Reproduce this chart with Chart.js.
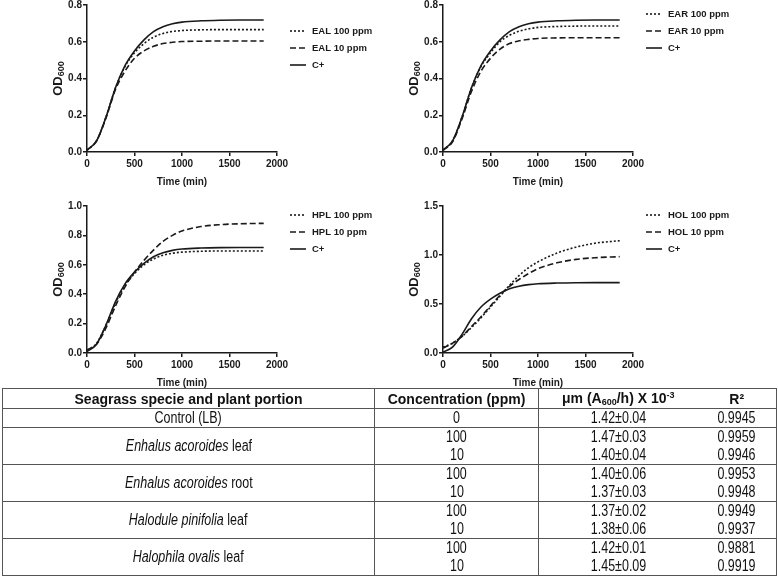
<!DOCTYPE html>
<html>
<head>
<meta charset="utf-8">
<script src="https://cdn.jsdelivr.net/npm/chart.js@4.4.1/dist/chart.umd.min.js"></script>
<style>
  body { margin: 0; background: #fff; width: 778px; height: 579px; position: relative; overflow: hidden; font-family: "Liberation Sans", Arial, sans-serif; }
  .panel { position: absolute; }
  table { position: absolute; left: 2px; top: 388px; width: 774px; border-collapse: collapse; border: 1.5px solid #555; table-layout: fixed; color: #111; }
  td, th { padding: 0; text-align: center; vertical-align: middle; white-space: nowrap; }
  th { font: bold 14px "Liberation Sans", Arial, sans-serif; height: 19px; border-bottom: 1.5px solid #555; }
  td { font: 16px "Liberation Sans", Arial, sans-serif; height: 18px; line-height: 18px; }
  td span { display: inline-block; transform: scaleX(0.78); }
  .c1 { border-right: 1.5px solid #555; }
  .c2 { border-right: 1.5px solid #555; }
  tr.grp td { border-top: 1.5px solid #555; }
  sub { font-size: 9px; vertical-align: -2px; }
  sup { font-size: 9px; vertical-align: 5px; }
</style>
</head>
<body>
<div class="panel" style="left:0;top:-10px"><canvas id="c1" width="390" height="200"></canvas></div>
<div class="panel" style="left:390px;top:-10px"><canvas id="c2" width="388" height="200"></canvas></div>
<div class="panel" style="left:0;top:191px"><canvas id="c3" width="390" height="200"></canvas></div>
<div class="panel" style="left:390px;top:191px"><canvas id="c4" width="388" height="200"></canvas></div>
<table id="tbl">
  <colgroup><col style="width:372px"><col style="width:164px"><col style="width:159px"><col style="width:79px"></colgroup>
  <thead>
    <tr>
      <th class="c1">Seagrass specie and plant portion</th>
      <th class="c2">Concentration (ppm)</th>
      <th>μm (A<sub>600</sub>/h) X 10<sup>-3</sup></th>
      <th>R²</th>
    </tr>
  </thead>
  <tbody id="tbody"></tbody>
</table>
<script>
// growth curves (OD600 vs time in min)
const timeMin = [0, 100, 200, 300, 400, 500, 600, 700, 800, 900, 1000, 1200, 1400, 1600, 1860];
const ctrlOD  = [0.01, 0.06, 0.19, 0.35, 0.47, 0.55, 0.61, 0.655, 0.682, 0.698, 0.707, 0.714, 0.717, 0.718, 0.718];

const eal100 = [0.01, 0.06, 0.19, 0.35, 0.465, 0.54, 0.59, 0.625, 0.645, 0.656, 0.661, 0.665, 0.666, 0.666, 0.666];
const eal10  = [0.01, 0.06, 0.185, 0.34, 0.44, 0.51, 0.55, 0.575, 0.59, 0.597, 0.601, 0.603, 0.604, 0.604, 0.604];

const ear100 = [0.01, 0.06, 0.19, 0.35, 0.465, 0.54, 0.60, 0.635, 0.657, 0.67, 0.678, 0.683, 0.685, 0.686, 0.686];
const ear10  = [0.01, 0.055, 0.18, 0.33, 0.44, 0.51, 0.56, 0.59, 0.605, 0.613, 0.618, 0.621, 0.622, 0.622, 0.622];

const hpl100 = [0.02, 0.065, 0.19, 0.34, 0.46, 0.54, 0.60, 0.64, 0.665, 0.679, 0.686, 0.692, 0.694, 0.694, 0.694];
const hpl10  = [0.02, 0.06, 0.17, 0.32, 0.45, 0.55, 0.63, 0.70, 0.76, 0.80, 0.83, 0.86, 0.873, 0.879, 0.882];

const hol100 = [0.06, 0.10, 0.17, 0.26, 0.36, 0.47, 0.58, 0.69, 0.79, 0.87, 0.93, 1.02, 1.08, 1.12, 1.146];
const hol10  = [0.05, 0.10, 0.17, 0.27, 0.37, 0.48, 0.59, 0.68, 0.75, 0.81, 0.86, 0.92, 0.955, 0.972, 0.983];

const legendNames = [
  ['EAL 100 ppm', 'EAL 10 ppm', 'C+'],
  ['EAR 100 ppm', 'EAR 10 ppm', 'C+'],
  ['HPL 100 ppm', 'HPL 10 ppm', 'C+'],
  ['HOL 100 ppm', 'HOL 10 ppm', 'C+']
];
const yMax  = [0.8, 0.8, 1.0, 1.5];
const yStep = [0.2, 0.2, 0.2, 0.5];

// table values
const speciesNames = ['Enhalus acoroides', 'Enhalus acoroides', 'Halodule pinifolia', 'Halophila ovalis'];
const plantParts   = ['leaf', 'root', 'leaf', 'leaf'];
const concentrations = ['100', '10'];
const ctrlMu = '1.42±0.04';
const ctrlR2 = '0.9945';
const muValues = [['1.47±0.03', '1.40±0.04'], ['1.40±0.06', '1.37±0.03'], ['1.37±0.02', '1.38±0.06'], ['1.42±0.01', '1.45±0.09']];
const r2Values = [['0.9959', '0.9946'], ['0.9953', '0.9948'], ['0.9949', '0.9937'], ['0.9881', '0.9919']];

const ink = '#1a1a1a';
const sans = '"Liberation Sans", Arial, sans-serif';

const decor = {
  id: 'decor',
  afterDraw(chart, args, opts) {
    const { ctx, chartArea: a } = chart;
    // y title with subscript
    ctx.save();
    ctx.translate(opts.titleX, (a.top + a.bottom) / 2);
    ctx.rotate(-Math.PI / 2);
    ctx.fillStyle = ink;
    ctx.textBaseline = 'middle';
    ctx.textAlign = 'left';
    ctx.font = 'bold 13px ' + sans;
    const w1 = ctx.measureText('OD').width;
    ctx.font = 'bold 9px ' + sans;
    const w2 = ctx.measureText('600').width;
    const x0 = -(w1 + w2) / 2;
    ctx.font = 'bold 13px ' + sans;
    ctx.fillText('OD', x0, 0);
    ctx.font = 'bold 9px ' + sans;
    ctx.fillText('600', x0 + w1, 4);
    ctx.restore();
    // legend
    ctx.save();
    chart.data.datasets.forEach((ds, i) => {
      const y = a.top + opts.legendTop + i * 17;
      ctx.strokeStyle = ink;
      ctx.lineWidth = 1.6;
      ctx.setLineDash(ds.borderDash || []);
      ctx.beginPath();
      ctx.moveTo(a.right + 13, y);
      ctx.lineTo(a.right + 29, y);
      ctx.stroke();
      ctx.setLineDash([]);
      ctx.fillStyle = ink;
      ctx.font = 'bold 9.5px ' + sans;
      ctx.textBaseline = 'middle';
      ctx.fillText(ds.label, a.right + 35, y);
    });
    ctx.restore();
  }
};

function makeChart(id, idx, series, yAxisW, padRight, legendTop) {
  const dashes = [[2, 2], [6, 3], []];
  const datasets = series.map((vals, i) => ({
    label: legendNames[idx][i],
    data: timeMin.map((t, j) => ({ x: t, y: vals[j] })),
    borderColor: ink,
    borderWidth: 1.6,
    borderDash: dashes[i],
    pointRadius: 0,
    fill: false,
    cubicInterpolationMode: 'monotone'
  }));
  return new Chart(document.getElementById(id), {
    type: 'line',
    data: { datasets },
    plugins: [decor],
    options: {
      responsive: false,
      animation: false,
      devicePixelRatio: 1,
      layout: { padding: { left: 0, right: padRight, top: 15, bottom: 0 } },
      plugins: {
        legend: { display: false },
        tooltip: { enabled: false },
        decor: { titleX: yAxisW - 29, legendTop }
      },
      scales: {
        x: {
          type: 'linear', min: 0, max: 2000,
          afterFit: s => { s.height = 38; },
          ticks: { stepSize: 500, color: ink, padding: 2, callback: v => String(v), font: { family: sans, size: 10, weight: 'bold' } },
          grid: { drawOnChartArea: false, drawTicks: true, tickLength: 4, color: ink, lineWidth: 1.5 },
          border: { color: ink, width: 1.5 },
          title: { display: true, text: 'Time (min)', color: ink, font: { family: sans, size: 10, weight: 'bold' }, padding: { top: 0, bottom: 2 } }
        },
        y: {
          min: 0, max: yMax[idx],
          afterFit: s => { s.width = yAxisW; },
          ticks: { stepSize: yStep[idx], color: ink, padding: 1, callback: v => v.toFixed(1), font: { family: sans, size: 10, weight: 'bold' } },
          grid: { drawOnChartArea: false, drawTicks: true, tickLength: 4, color: ink, lineWidth: 1.5 },
          border: { color: ink, width: 1.5 }
        }
      }
    }
  });
}

makeChart('c1', 0, [eal100, eal10, ctrlOD], 87, 113, 26);
makeChart('c2', 1, [ear100, ear10, ctrlOD], 53, 145, 9);
makeChart('c3', 2, [hpl100, hpl10, ctrlOD], 87, 113, 9);
makeChart('c4', 3, [hol100, hol10, ctrlOD], 53, 145, 9);

// table body
const tbody = document.getElementById('tbody');
const cell = (txt, cls, extra) => `<td${cls ? ` class="${cls}"` : ''}${extra || ''}><span>${txt}</span></td>`;
let html = '<tr>' + cell('Control (LB)', 'c1') + cell('0', 'c2') + cell(ctrlMu) + cell(ctrlR2) + '</tr>';
speciesNames.forEach((sp, i) => {
  concentrations.forEach((c, j) => {
    html += `<tr class="${j === 0 ? 'grp' : ''}">`;
    if (j === 0) html += cell(`<i>${sp}</i> ${plantParts[i]}`, 'c1', ' rowspan="2"');
    html += cell(c, 'c2') + cell(muValues[i][j]) + cell(r2Values[i][j]) + '</tr>';
  });
});
tbody.innerHTML = html;
</script>
</body>
</html>
